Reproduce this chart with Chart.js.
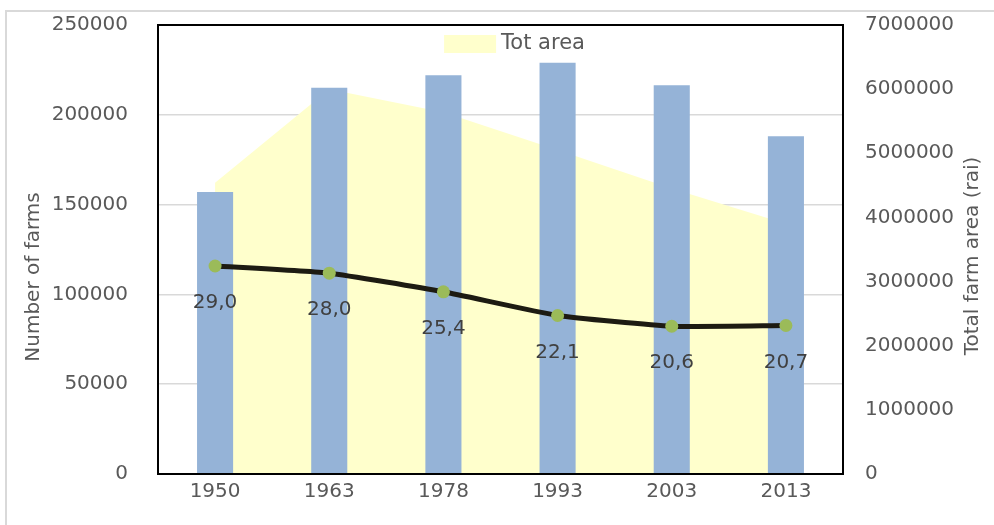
<!DOCTYPE html>
<html>
<head>
<meta charset="utf-8">
<title>Farms</title>
<script src="https://cdn.jsdelivr.net/npm/chart.js@4.4.0/dist/chart.umd.min.js"></script>
<style>
    html, body { margin: 0; padding: 0; background: #fff; overflow: hidden; }
    #wrap { position: relative; width: 994px; height: 525px; overflow: hidden; }
    #frame { position: absolute; left: 5px; top: 10px; width: 1100px; height: 700px; border-left: 2px solid #d9d9d9; border-top: 2px solid #d9d9d9; }
    #farms { position: absolute; left: 0; top: 0; }
</style>
</head>
<body>
<div id="wrap">
    <div id="frame"></div>
    <canvas id="farms" width="994" height="525"></canvas>
</div>
<script>

    // Data

    var years = ['1950', '1963', '1978', '1993', '2003', '2013'];
    var farmCount = [157000, 215000, 222000, 229000, 216500, 188000];
    var totalArea = [4540000, 6000000, 5640000, 5050000, 4450000, 3900000];
    var avgSize = [29.0, 28.0, 25.4, 22.1, 20.6, 20.7];

    var textFont = '"DejaVu Sans"';


    // Plugins

    // black box round the plot area
    var plotFrame = {
        id: 'plotFrame',
        afterDatasetsDraw: function (chart) {
            var a = chart.chartArea, ctx = chart.ctx;
            ctx.save();
            ctx.strokeStyle = '#000';
            ctx.lineWidth = 2;
            ctx.strokeRect(a.left, a.top, a.right - a.left, a.bottom - a.top);
            ctx.restore();
        }
    };

    // value labels under the average size line
    var sizeLabels = {
        id: 'sizeLabels',
        afterDatasetsDraw: function (chart) {
            var meta = chart.getDatasetMeta(2);
            var ctx = chart.ctx;
            ctx.save();
            ctx.font = '20px ' + textFont;
            ctx.fillStyle = '#404040';
            ctx.textAlign = 'center';
            ctx.textBaseline = 'middle';
            meta.data.forEach(function (pt, i) {
                ctx.fillText(avgSize[i].toFixed(1).replace('.', ','), pt.x, pt.y + 37);
            });
            ctx.restore();
        }
    };

    function sideTitle(ctx, text, x, y) {
        ctx.save();
        ctx.translate(x, y);
        ctx.rotate(-Math.PI / 2);
        ctx.textAlign = 'center';
        ctx.textBaseline = 'middle';
        ctx.fillText(text, 0, 0);
        ctx.restore();
    }

    // legend inside the plot (area series only) and both axis titles
    var extras = {
        id: 'extras',
        afterDraw: function (chart) {
            var a = chart.chartArea, ctx = chart.ctx;
            var ds = chart.data.datasets[0];
            ctx.save();
            ctx.font = '21px ' + textFont;
            var tw = ctx.measureText(ds.label).width;
            var total = 52 + 5 + tw;
            var x0 = (a.left + a.right) / 2 + 14 - total / 2;
            var cy = a.top + 19;
            ctx.fillStyle = ds.backgroundColor;
            ctx.fillRect(x0, cy - 9, 52, 18);
            ctx.fillStyle = '#595959';
            ctx.textBaseline = 'middle';
            ctx.textAlign = 'left';
            ctx.fillText(ds.label, x0 + 57, cy);

            ctx.font = '20px ' + textFont;
            sideTitle(ctx, 'Number of farms', 34, 277);
            sideTitle(ctx, 'Total farm area (rai)', chart.width - 21, 256);
            ctx.restore();
        }
    };

    var tickFont = { family: 'DejaVu Sans', size: 20 };
    var plain = function (v) { return String(v); };

    // fixed axis size, and no extra room above/below for the tick padding
    function fixWidth(w) {
        return function (s) {
            s.width = w;
            s.paddingTop = 12;
            s.paddingBottom = 12;
        };
    }


    // Chart

    var farmsChart = new Chart(document.getElementById('farms'), {
        data: {
            labels: years,
            datasets: [{
                type: 'line',
                label: 'Tot area',
                data: totalArea,
                yAxisID: 'yArea',
                fill: 'origin',
                backgroundColor: '#FFFFCC',
                borderColor: '#FFFFCC',
                borderWidth: 0,
                pointRadius: 0,
                tension: 0,
                order: 3
            }, {
                type: 'bar',
                label: 'Number of farms',
                data: farmCount,
                yAxisID: 'yFarms',
                backgroundColor: '#95B3D7',
                barPercentage: 0.316,
                categoryPercentage: 1,
                order: 2
            }, {
                type: 'line',
                label: 'Average farm size',
                data: avgSize,
                yAxisID: 'ySize',
                borderColor: '#1d1b12',
                borderWidth: 5,
                pointBackgroundColor: '#9BBB59',
                pointBorderWidth: 0,
                pointRadius: 6.5,
                tension: 0.15,
                fill: false,
                order: 1
            }]
        },
        options: {
            responsive: false,
            animation: false,
            layout: { padding: { top: 25, left: 0, right: 0, bottom: 0 } },
            plugins: {
                tooltip: { enabled: false },
                legend: { display: false }
            },
            scales: {
                x: {
                    afterFit: function (s) { s.height = 51; },
                    grid: { display: false, drawTicks: false },
                    border: { display: false },
                    ticks: { font: tickFont, color: '#595959', padding: 6 }
                },
                yFarms: {
                    position: 'left',
                    min: 0,
                    max: 250000,
                    afterFit: fixWidth(158),
                    grid: { color: '#D9D9D9', lineWidth: 1.5, drawTicks: false },
                    border: { display: false },
                    ticks: { stepSize: 50000, font: tickFont, color: '#595959', padding: 30, callback: plain }
                },
                yArea: {
                    position: 'right',
                    min: 0,
                    max: 7000000,
                    afterFit: fixWidth(151),
                    grid: { display: false, drawTicks: false },
                    border: { display: false },
                    ticks: { stepSize: 1000000, font: tickFont, color: '#595959', padding: 22, callback: plain }
                },
                ySize: {
                    display: false,
                    min: 0,
                    max: 62.6
                }
            }
        },
        plugins: [plotFrame, sizeLabels, extras]
    });

</script>
</body>
</html>
